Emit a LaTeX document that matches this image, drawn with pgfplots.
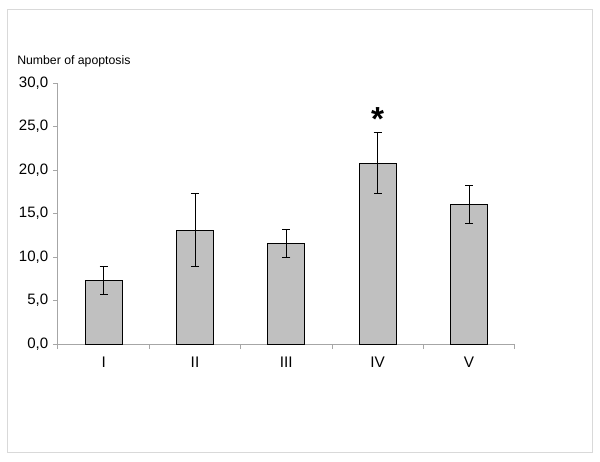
\documentclass[border=0pt]{standalone}
\usepackage{fontspec}
\setmainfont{Liberation Sans}
\usepackage{pgfplots}
\pgfplotsset{compat=1.18}

\definecolor{barGray}{HTML}{C0C0C0}
\definecolor{axisGray}{HTML}{A6A6A6}
\definecolor{frameGray}{HTML}{D9D9D9}

\begin{document}
\begin{tikzpicture}
% page size and outer frame (1px = 0.75pt)
\path (-43.5pt,-87.75pt) rectangle (406.5pt,258pt);
\draw[frameGray, line width=0.75pt] (-37.5pt,-81pt) rectangle (400.9pt,251pt);
\begin{axis}[
  at={(0pt,0pt)}, anchor=south west,
  width=342.5pt, height=195.75pt, scale only axis,
  xmin=0, xmax=5, ymin=0, ymax=30,
  axis x line*=bottom, axis y line*=left,
  axis line style={axisGray, line width=0.75pt, -},
  tick style={axisGray, line width=0.75pt},
  tick align=outside, major tick length=3.75pt,
  xtick={0,1,2,3,4,5}, xticklabels={},
  extra x ticks={0.5,1.5,2.5,3.5,4.5},
  extra x tick labels={I,II,III,IV,V},
  extra x tick style={major tick length=0pt},
  xticklabel style={font=\fontsize{11.5}{12}\selectfont, yshift=-6pt},
  ytick={0,5,...,30},
  yticklabel style={font=\fontsize{11.3}{12}\selectfont,
    /pgf/number format/.cd, fixed, fixed zerofill, precision=1, use comma,
    assume math mode=true},
  clip=false,
]
\addplot[ybar, bar width=27.75pt, fill=barGray, draw=black, line width=0.75pt,
  error bars/.cd, y dir=both, y explicit,
  error bar style={black, line width=0.75pt},
  error mark options={rotate=90, mark size=3pt, black, line width=0.75pt}]
coordinates {
  (0.5,7.3)  +- (0,1.65)
  (1.5,13.1) +- (0,4.2)
  (2.5,11.6) +- (0,1.6)
  (3.5,20.8) +- (0,3.5)
  (4.5,16.0) +- (0,2.2)
};
\node[anchor=base, inner sep=0pt, font=\fontsize{25}{25}\selectfont\bfseries] at (axis cs:3.5,24.5) {*};
\end{axis}
\node[anchor=base west, inner sep=0pt, font=\fontsize{9.2}{10}\selectfont] at (-30.75pt,209.8pt) {Number of apoptosis};
\end{tikzpicture}
\end{document}
